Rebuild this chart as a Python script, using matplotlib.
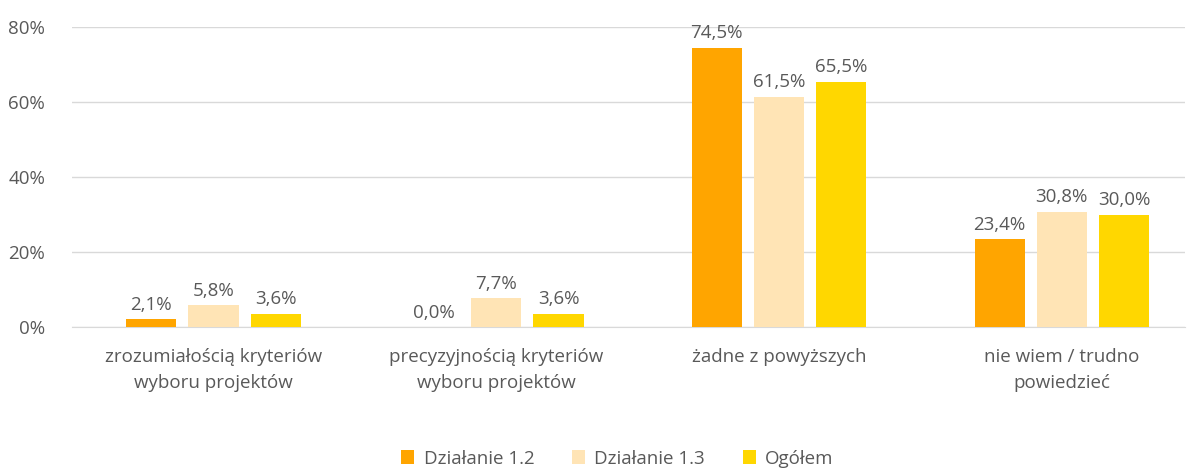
import matplotlib
matplotlib.use("Agg")
from matplotlib import pyplot as plt
import numpy as np

categories = ["zrozumiałością kryteriów\nwyboru projektów",
              "precyzyjnością kryteriów\nwyboru projektów",
              "żadne z powyższych",
              "nie wiem / trudno\npowiedzieć"]
series_names = ["Działanie 1.2", "Działanie 1.3", "Ogółem"]
dz12 = [2.1, 0.0, 74.5, 23.4]
dz13 = [5.8, 7.7, 61.5, 30.8]
ogolem = [3.6, 3.6, 65.5, 30.0]
colors = ["#FFA500", "#FFE4B5", "#FFD700"]

plt.rcParams["font.family"] = ["Open Sans", "DejaVu Sans"]
text_color = "#595959"
fs = 13.5

fig = plt.figure(figsize=(11.92, 4.68), dpi=100)
ax = fig.add_axes([0.060, 0.301, 0.934, 0.641])

x = np.arange(len(categories))
width = 0.177
step = 0.22
for i, (name, vals) in enumerate(zip(series_names, [dz12, dz13, ogolem])):
    pos = x + (i - 1) * step
    ax.bar(pos, vals, width=width, color=colors[i], label=name, zorder=3)
    for p, v in zip(pos, vals):
        ax.text(p, v + 1.5, f"{v:.1f}%".replace(".", ","), ha="center", va="bottom",
                fontsize=fs, color=text_color)

ax.set_ylim(0, 80)
ax.set_xlim(-0.502, 3.435)
ax.set_yticks([0, 20, 40, 60, 80])
ax.set_yticklabels(["0%", "20%", "40%", "60%", "80%"])
ax.set_xticks(x)
ax.set_xticklabels(categories, linespacing=1.6)
ax.tick_params(axis="both", length=0, labelsize=fs, colors=text_color)
ax.tick_params(axis="x", pad=15)
ax.tick_params(axis="y", pad=19)
ax.grid(axis="y", color="#d9d9d9", linewidth=1, zorder=0)
for s in ["top", "right", "left"]:
    ax.spines[s].set_visible(False)
ax.spines["bottom"].set_color("#d9d9d9")

leg = fig.legend(loc="lower center", ncol=3, frameon=False, fontsize=fs,
                 bbox_to_anchor=(0.518, -0.035), handlelength=0.7, handleheight=0.7,
                 columnspacing=2.0, handletextpad=0.5)
for t in leg.get_texts():
    t.set_color(text_color)

fig.savefig("out.png", dpi=100)
